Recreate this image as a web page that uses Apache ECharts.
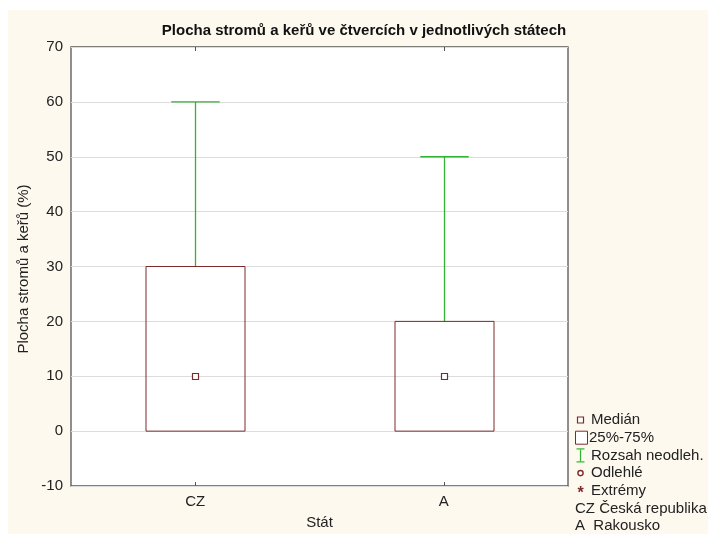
<!DOCTYPE html>
<html>
<head>
<meta charset="utf-8">
<title>Plocha stromů a keřů</title>
<script src="https://cdn.jsdelivr.net/npm/echarts@6/dist/echarts.min.js"></script>
<style>
  html, body { margin: 0; padding: 0; background: #ffffff; }
  #chart { width: 708px; height: 534px; }
</style>
</head>
<body>
<div id="chart"></div>
<script>
// Box plot: tree and shrub cover per square, by country
const categories = ['CZ', 'A'];
const whiskerMin = [0, 0];
const q1 = [0, 0];
const median = [10, 10];
const q3 = [30, 20];
const whiskerMax = [60, 50];

const legendItems = ['Medián', '25%-75%', 'Rozsah neodleh.', 'Odlehlé', 'Extrémy'];
const countryNames = ['CZ Česká republika', 'A  Rakousko'];

const BOX = '#7d2a2a';
const WHISK = '#2fb52f';
const FONT = '"Liberation Sans", Arial, sans-serif';

const boxData = categories.map((c, i) => [i, whiskerMin[i], q1[i], median[i], q3[i], whiskerMax[i]]);

function renderBox(params, api) {
  const idx = api.value(0);
  const band = api.size([1, 0])[0];
  const boxW = band * 0.4;
  const capW = band * 0.195;
  const lo = api.coord([idx, api.value(1)]);
  const b1 = api.coord([idx, api.value(2)]);
  const md = api.coord([idx, api.value(3)]);
  const b3 = api.coord([idx, api.value(4)]);
  const hi = api.coord([idx, api.value(5)]);
  const x = Math.round(md[0]) + 0.5;
  const children = [];
  const green = { stroke: WHISK, lineWidth: 1.3 };
  // upper whisker and cap
  children.push({ type: 'line', shape: { x1: x, y1: b3[1], x2: x, y2: hi[1] }, style: green });
  children.push({ type: 'line', shape: { x1: x - capW / 2, y1: hi[1], x2: x + capW / 2, y2: hi[1] }, style: green });
  // lower whisker only when it extends below the box
  if (api.value(1) < api.value(2)) {
    children.push({ type: 'line', shape: { x1: x, y1: b1[1], x2: x, y2: lo[1] }, style: green });
    children.push({ type: 'line', shape: { x1: x - capW / 2, y1: lo[1], x2: x + capW / 2, y2: lo[1] }, style: green });
  }
  // interquartile box
  children.push({
    type: 'rect',
    shape: { x: Math.round(x - boxW / 2), y: b3[1], width: Math.round(boxW), height: b1[1] - b3[1] },
    style: { stroke: BOX, lineWidth: 1, fill: 'rgba(255,255,255,0)' }
  });
  // median marker
  children.push({
    type: 'rect',
    shape: { x: x - 3, y: Math.round(md[1]) - 2.5, width: 6, height: 6 },
    style: { stroke: BOX, lineWidth: 1.2, fill: '#ffffff' }
  });
  return { type: 'group', children: children };
}

// legend graphics
const LX = 580.5;
const LY0 = 420;
const LSTEP = 17.7;
const TX = 591;
const legendGraphics = [];
const txt = (x, y, s) => ({
  type: 'text', x: x, y: y,
  style: { text: s, font: '15px ' + FONT, fill: '#222', verticalAlign: 'middle' }
});
legendGraphics.push({ type: 'rect', shape: { x: LX - 3, y: LY0 - 3, width: 6, height: 6 }, style: { stroke: BOX, lineWidth: 1.2, fill: '#fff' } });
legendGraphics.push(txt(TX, LY0, legendItems[0]));
legendGraphics.push({ type: 'rect', shape: { x: 575.5, y: LY0 + LSTEP - 6.5, width: 12, height: 13 }, style: { stroke: BOX, lineWidth: 1, fill: '#fff' } });
legendGraphics.push(txt(TX - 2, LY0 + LSTEP, legendItems[1]));
{
  const y = LY0 + 2 * LSTEP;
  const g = { stroke: WHISK, lineWidth: 1.2 };
  legendGraphics.push({ type: 'line', shape: { x1: LX, y1: y - 6, x2: LX, y2: y + 6 }, style: g });
  legendGraphics.push({ type: 'line', shape: { x1: LX - 4, y1: y - 6.5, x2: LX + 4, y2: y - 6.5 }, style: g });
  legendGraphics.push({ type: 'line', shape: { x1: LX - 4, y1: y + 6.5, x2: LX + 4, y2: y + 6.5 }, style: g });
  legendGraphics.push(txt(TX, y, legendItems[2]));
}
legendGraphics.push({ type: 'circle', shape: { cx: LX, cy: LY0 + 3 * LSTEP, r: 2.6 }, style: { stroke: BOX, lineWidth: 1.4, fill: '#fff' } });
legendGraphics.push(txt(TX, LY0 + 3 * LSTEP, legendItems[3]));
{
  const y = LY0 + 4 * LSTEP;
  legendGraphics.push({
    type: 'text', x: LX, y: y + 3,
    style: { text: '*', font: 'bold 16px ' + FONT, fill: BOX, align: 'center', verticalAlign: 'middle' }
  });
  legendGraphics.push(txt(TX, y, legendItems[4]));
}
legendGraphics.push(txt(575, LY0 + 5 * LSTEP, countryNames[0]));
legendGraphics.push(txt(575, LY0 + 6 * LSTEP, countryNames[1]));

const chart = echarts.init(document.getElementById('chart'), null, { renderer: 'canvas' });

chart.setOption({
  animation: false,
  backgroundColor: '#ffffff',
  title: {
    text: 'Plocha stromů a keřů ve čtvercích v jednotlivých státech',
    left: 359, top: 18, textAlign: 'center',
    textStyle: { fontFamily: FONT, fontSize: 15, fontWeight: 'bold', color: '#111' }
  },
  grid: {
    left: 71, right: 140, top: 47, bottom: 48,
    outerBoundsMode: 'none', containLabel: false,
    show: true, backgroundColor: '#ffffff', borderColor: '#555', borderWidth: 1.3
  },
  xAxis: [{
    type: 'category', data: categories, boundaryGap: true, position: 'bottom',
    name: 'Stát', nameLocation: 'middle', nameGap: 29,
    nameTextStyle: { fontFamily: FONT, fontSize: 15, color: '#222' },
    axisLine: { show: false, onZero: false },
    axisTick: { show: true, inside: true, alignWithLabel: true, length: 4, lineStyle: { color: '#555' } },
    axisLabel: { fontFamily: FONT, fontSize: 15, color: '#222', margin: 8 },
    splitLine: { show: false }
  }, {
    type: 'category', data: categories, position: 'top', boundaryGap: true,
    axisLine: { show: false, onZero: false },
    axisTick: { show: true, inside: true, alignWithLabel: true, length: 4, lineStyle: { color: '#555' } },
    axisLabel: { show: false },
    splitLine: { show: false }
  }],
  yAxis: {
    type: 'value', min: -10, max: 70, interval: 10,
    axisLine: { show: false },
    axisTick: { show: false },
    axisLabel: { fontFamily: FONT, fontSize: 15, color: '#222', margin: 8 },
    splitLine: { show: true, lineStyle: { color: '#dcdcdc', width: 1 } }
  },
  graphic: [
    { type: 'rect', z: -10, shape: { x: 8, y: 10, width: 700, height: 524 }, style: { fill: '#fdf9ef' } },
    {
      type: 'text', x: 24, y: 269, rotation: Math.PI / 2,
      style: { text: 'Plocha stromů a keřů (%)', font: '15px ' + FONT, fill: '#222', align: 'center', verticalAlign: 'middle' }
    }
  ].concat(legendGraphics),
  series: [{
    type: 'custom',
    renderItem: renderBox,
    encode: { x: 0, y: [1, 2, 3, 4, 5] },
    data: boxData,
    z: 5
  }]
});
</script>
</body>
</html>
